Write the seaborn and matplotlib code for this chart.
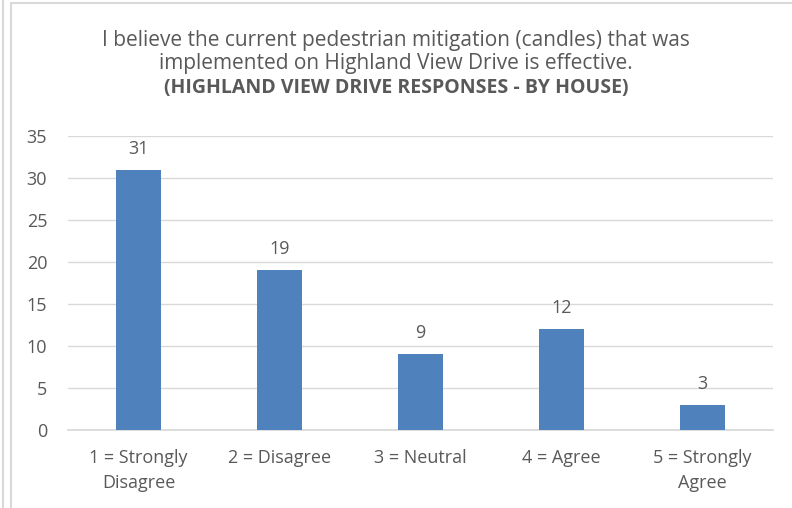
import matplotlib
matplotlib.use("Agg")
import matplotlib.pyplot as plt
import seaborn as sns
import pandas as pd
from matplotlib.patches import Rectangle
from matplotlib.lines import Line2D

categories = ["1 = Strongly\nDisagree", "2 = Disagree", "3 = Neutral", "4 = Agree", "5 = Strongly\nAgree"]
values = [31, 19, 9, 12, 3]
yticks = [0, 5, 10, 15, 20, 25, 30, 35]

sns.set_theme(style="white")
plt.rcParams['font.family'] = ['Open Sans', 'DejaVu Sans']
txt = "#595959"
grid = "#D9D9D9"

df = pd.DataFrame({"cat": categories, "val": values})

fig = plt.figure(figsize=(7.92, 5.08), dpi=100)
ax = fig.add_axes([68/792, 1-430/508, (773-68)/792, (430-136)/508])
sns.barplot(data=df, x="cat", y="val", color="#4F81BD", saturation=1, width=0.315,
            linewidth=0, ax=ax, zorder=3)

ax.set_ylim(0, 35)
ax.set_yticks(yticks)
ax.set_xlim(-0.5, 4.5)
ax.grid(axis="y", color=grid, linewidth=1, zorder=0)
ax.set_axisbelow(True)
for s in ["top", "right", "left"]:
    ax.spines[s].set_visible(False)
ax.spines["bottom"].set_color(grid)
ax.set_xlabel("")
ax.set_ylabel("")
ax.tick_params(axis="both", length=0, colors=txt, labelsize=13)
ax.tick_params(axis="y", pad=15)
ax.tick_params(axis="x", pad=14)
for lbl in ax.get_xticklabels():
    lbl.set_linespacing(1.5)

for i, v in enumerate(values):
    ax.annotate(str(v), (i, v), xytext=(0, 11.5), textcoords="offset points",
                ha="center", va="baseline", color=txt, fontsize=13)

fig.text(0.5, 1-46/508, "I believe the current pedestrian mitigation (candles) that was",
         ha="center", va="baseline", color=txt, fontsize=15)
fig.text(0.5, 1-69/508, "implemented on Highland View Drive is effective.",
         ha="center", va="baseline", color=txt, fontsize=15)
fig.text(0.5, 1-93/508, "(HIGHLAND VIEW DRIVE RESPONSES - BY HOUSE)",
         ha="center", va="baseline", color=txt, fontsize=14, fontweight="bold")

# chart frame
fig.patches.append(Rectangle((11/792, -0.1), 1.0, 1-3/508+0.1, transform=fig.transFigure,
                             fill=False, edgecolor=grid, linewidth=1.5))
fig.lines.append(Line2D([3/792, 3/792], [0, 1], transform=fig.transFigure, color=grid, linewidth=1.5))

fig.savefig("out.png", dpi=100)
